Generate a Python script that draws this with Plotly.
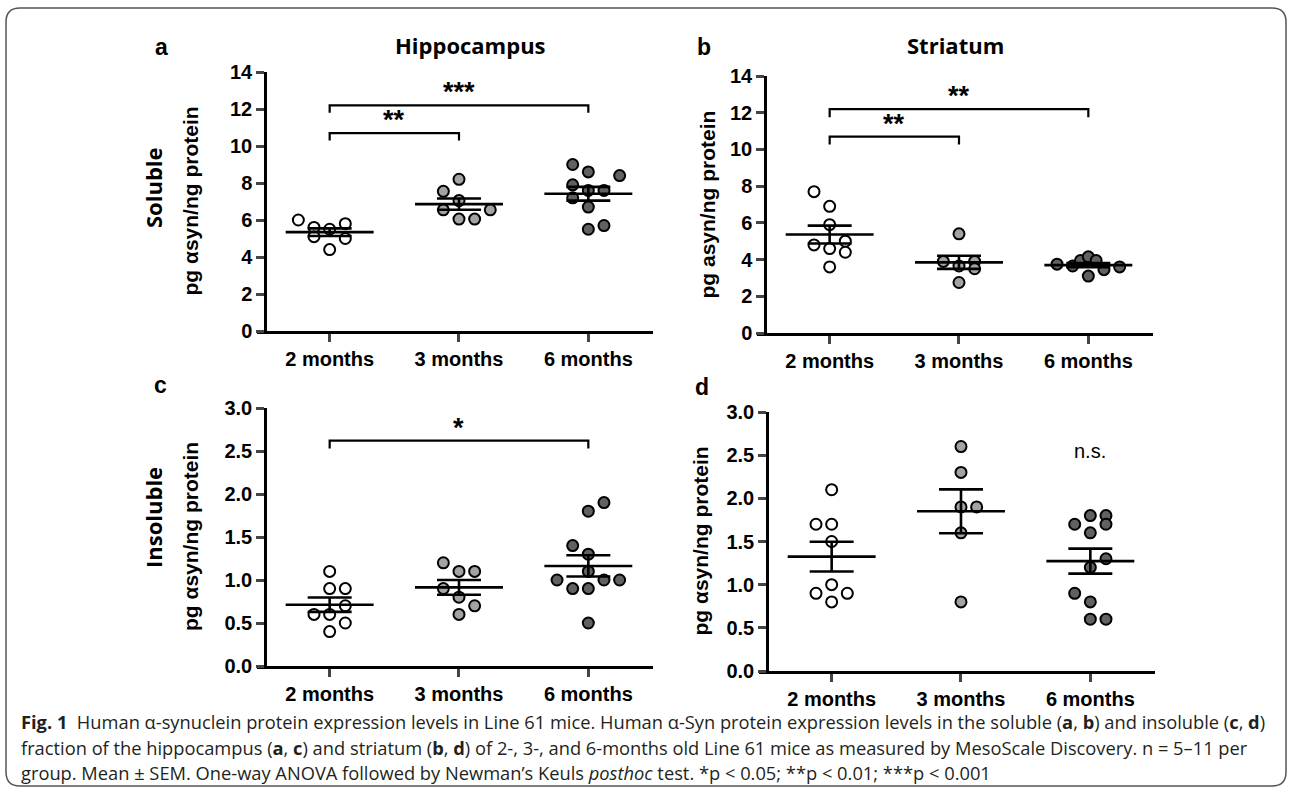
import numpy as np
import plotly.graph_objects as go

W, H = 1292, 795

groups = ["2 months", "3 months", "6 months"]
group_colors = ["#ffffff", "#a3a3a3", "#616161"]

# ---- data (pg alpha-syn / ng protein) ----
hip_sol = {
    "2 months": [6.0, 5.6, 5.1, 5.5, 4.4, 5.8, 5.0],
    "3 months": [8.2, 7.55, 7.05, 6.55, 6.55, 6.05, 6.05],
    "6 months": [9.0, 8.6, 8.4, 7.9, 7.6, 7.6, 7.2, 6.7, 5.5, 5.7],
}
str_sol = {
    "2 months": [7.7, 6.9, 5.9, 4.8, 4.6, 5.0, 4.4, 3.6],
    "3 months": [5.4, 3.9, 3.65, 3.9, 3.5, 2.75],
    "6 months": [3.75, 3.65, 3.95, 4.15, 3.95, 3.45, 3.1, 3.6],
}
hip_ins = {
    "2 months": [1.1, 0.9, 0.9, 0.7, 0.6, 0.6, 0.5, 0.4],
    "3 months": [1.2, 1.1, 1.1, 0.9, 0.8, 0.7, 0.6],
    "6 months": [1.9, 1.8, 1.4, 1.3, 1.1, 1.0, 1.0, 1.0, 0.9, 0.9, 0.5],
}
str_ins = {
    "2 months": [2.1, 1.7, 1.7, 1.5, 1.0, 0.9, 0.9, 0.8],
    "3 months": [2.6, 2.3, 1.9, 1.9, 1.6, 0.8],
    "6 months": [1.7, 1.8, 1.8, 1.7, 1.6, 1.3, 1.2, 0.9, 0.8, 0.6, 0.6],
}

# horizontal scatter slots (layout of the dot plot, in marker-widths)
slots_hip_sol = {
    "2 months": [-2, -1, -1, 0, 0, 1, 1],
    "3 months": [0, -1, 0, -1, 2, 0, 1],
    "6 months": [-1, 0, 2, -1, 0, 1, -1, 0, 0, 1],
}
slots_str_sol = {
    "2 months": [-1, 0, 0, -1, 0, 1, 1, 0],
    "3 months": [0, -1, 0, 1, 1, 0],
    "6 months": [-2, -1, -0.5, 0, 0.5, 1, 0, 2],
}
slots_hip_ins = {
    "2 months": [0, 0, 1, 1, -1, 0, 1, 0],
    "3 months": [-1, 0, 1, -1, 0, 1, 0],
    "6 months": [1, 0, -1, 0, 0, -2, 1, 2, -1, 0, 0],
}
slots_str_ins = {
    "2 months": [0, -1, 0, 0, 0, -1, 1, 0],
    "3 months": [0, 0, 0, 1, 0, 0],
    "6 months": [-1, 0, 1, 1, 0, 1, 0, -1, 0, 0, 1],
}

soluble_ticks = [0, 2, 4, 6, 8, 10, 12, 14]
insoluble_ticks = [0.0, 0.5, 1.0, 1.5, 2.0, 2.5, 3.0]

# significance brackets: (from group, to group, bar height, leg end, label)
sig_a = [(0, 2, 12.2, 11.8, "***"), (0, 1, 10.7, 10.3, "**")]
sig_b = [(0, 2, 12.2, 11.75, "**"), (0, 1, 10.7, 10.27, "**")]
sig_c = [(0, 2, 2.62, 2.53, "*")]

# ---- layout geometry (pixels) ----
def PX(x):
    return x / W

def PY(y):
    return 1 - y / H

panels = [
    dict(d=hip_sol, s=slots_hip_sol, ticks=soluble_ticks, yr=[0, 14], top=72, bot=331,
         xd=(257, 653), yx=265, fmt="d", title="pg \u03b1syn/ng protein", tx=190, sig=sig_a),
    dict(d=str_sol, s=slots_str_sol, ticks=soluble_ticks, yr=[0, 14], top=76, bot=333,
         xd=(757, 1153), yx=765, fmt="d", title="pg asyn/ng protein", tx=707, sig=sig_b),
    dict(d=hip_ins, s=slots_hip_ins, ticks=insoluble_ticks, yr=[0, 3], top=408, bot=666,
         xd=(257, 653), yx=265, fmt=".1f", title="pg \u03b1syn/ng protein", tx=190, sig=sig_c),
    dict(d=str_ins, s=slots_str_ins, ticks=insoluble_ticks, yr=[0, 3], top=412, bot=671,
         xd=(759, 1155), yx=767, fmt=".1f", title="pg \u03b1syn/ng protein", tx=700, sig=[]),
]

SLOT = 0.121       # one marker width, in category units
MEAN_HW = 0.34     # half-width of mean line
SEM_HW = 0.17      # half-width of SEM caps
XMIN = -0.5 - 8 / 129.5
XMAX = 2.5

ARIAL = "Liberation Sans, Arial"

fig = go.Figure()
layout = dict(
    width=W, height=H, margin=dict(l=0, r=0, t=0, b=0, autoexpand=False),
    paper_bgcolor="white", plot_bgcolor="rgba(0,0,0,0)", showlegend=False,
)
annotations = []
shapes = []

for i, p in enumerate(panels):
    k = "" if i == 0 else str(i + 1)
    xa, ya = "x" + k, "y" + k
    layout["xaxis" + k] = dict(
        domain=[PX(p["xd"][0]), PX(p["xd"][1])], range=[XMIN, XMAX], anchor=ya,
        tickvals=[0, 1, 2], ticktext=groups, ticks="outside", ticklen=8, tickwidth=2.5,
        showline=True, linewidth=2.5, linecolor="black", showgrid=False, zeroline=False,
        tickfont=dict(family=ARIAL, size=20, color="black", weight="bold"),
        fixedrange=True, automargin=False,
    )
    layout["yaxis" + k] = dict(
        domain=[PY(p["bot"]), PY(p["top"])], range=p["yr"], anchor="free", position=PX(p["yx"]),
        tickvals=p["ticks"], tickformat=p["fmt"], ticks="outside", ticklen=8, tickwidth=2.5,
        showline=True, linewidth=2.5, linecolor="black", showgrid=False, zeroline=False,
        tickfont=dict(family=ARIAL, size=20, color="black", weight="bold"),
        fixedrange=True, automargin=False,
    )
    # dots
    for g, grp in enumerate(groups):
        vals = np.array(p["d"][grp], dtype=float)
        xs = g + np.array(p["s"][grp], dtype=float) * SLOT
        fig.add_trace(go.Scatter(
            x=xs, y=vals, mode="markers", xaxis=xa, yaxis=ya,
            marker=dict(size=11, color=group_colors[g], line=dict(color="black", width=2)),
            hoverinfo="y",
        ))
    # mean +/- SEM
    for g, grp in enumerate(groups):
        vals = np.array(p["d"][grp], dtype=float)
        m = vals.mean()
        sem = vals.std(ddof=1) / np.sqrt(len(vals))
        lx = [g - MEAN_HW, g + MEAN_HW, None, g - SEM_HW, g + SEM_HW, None,
              g - SEM_HW, g + SEM_HW, None, g, g]
        ly = [m, m, None, m + sem, m + sem, None, m - sem, m - sem, None, m + sem, m - sem]
        fig.add_trace(go.Scatter(x=lx, y=ly, mode="lines", xaxis=xa, yaxis=ya,
                                 line=dict(color="black", width=2.6), hoverinfo="skip"))
    # brackets
    for (g0, g1, top, leg, lab) in p["sig"]:
        fig.add_trace(go.Scatter(x=[g0, g0, g1, g1], y=[leg, top, top, leg], mode="lines",
                                 xaxis=xa, yaxis=ya, line=dict(color="black", width=2.2),
                                 hoverinfo="skip"))
        annotations.append(dict(x=(g0 + g1) / 2, y=top, xref=xa, yref=ya, text=lab,
                                showarrow=False, yanchor="bottom", yshift=-4,
                                font=dict(family=ARIAL, size=27, color="black",
                                          weight="bold")))
    # y-axis title
    annotations.append(dict(x=PX(p["tx"]), y=PY((p["top"] + p["bot"]) / 2), xref="paper",
                            yref="paper", text=p["title"], textangle=-90, showarrow=False,
                            xanchor="center", yanchor="middle",
                            font=dict(family=ARIAL, size=21, color="black", weight="bold")))

# n.s. label in panel d
annotations.append(dict(x=2, y=2.55, xref="x4", yref="y4", text="n.s.", showarrow=False,
                        xanchor="center", yanchor="middle",
                        font=dict(family=ARIAL, size=20, color="black")))

# panel letters
for lab, x, y in [("a", 161, 47), ("b", 704, 47), ("c", 160, 385), ("d", 702, 387)]:
    annotations.append(dict(x=PX(x), y=PY(y), xref="paper", yref="paper", text=lab,
                            showarrow=False, xanchor="center", yanchor="middle",
                            font=dict(family=ARIAL, size=23, color="black", weight="bold")))

# column / row headers
hdr = dict(family="Open Sans", size=22, color="black", weight="bold")
for txt, x, y, ang in [("Hippocampus", 470, 45, 0), ("Striatum", 955, 45, 0),
                       ("Soluble", 153, 188, -90), ("Insoluble", 153, 518, -90)]:
    annotations.append(dict(x=PX(x), y=PY(y), xref="paper", yref="paper", text=txt,
                            textangle=ang, showarrow=False, xanchor="center",
                            yanchor="middle", font=hdr))

# caption
cap_lines = [
    "<b>Fig. 1</b>  Human \u03b1-synuclein protein expression levels in Line 61 mice. Human \u03b1-Syn "
    "protein expression levels in the soluble (<b>a</b>, <b>b</b>) and insoluble (<b>c</b>, <b>d</b>)",
    "fraction of the hippocampus (<b>a</b>, <b>c</b>) and striatum (<b>b</b>, <b>d</b>) of 2-, 3-, and "
    "6-months old Line 61 mice as measured by MesoScale Discovery. n = 5\u201311 per",
    "group. Mean \u00b1 SEM. One-way ANOVA followed by Newman\u2019s Keuls <i>posthoc</i> test. "
    "*p < 0.05; **p < 0.01; ***p < 0.001",
]
for line, yy in zip(cap_lines, [721, 747, 772]):
    annotations.append(dict(x=PX(19), y=PY(yy), xref="paper", yref="paper", text=line,
                            xanchor="left", yanchor="middle", showarrow=False,
                            font=dict(family="Open Sans", size=18.3, color="#231f20")))

# rounded frame
r = 14
x0, y0, x1, y1 = 6, 8, 1286, 786
path = (f"M {PX(x0 + r)},{PY(y0)} L {PX(x1 - r)},{PY(y0)} "
        f"Q {PX(x1)},{PY(y0)} {PX(x1)},{PY(y0 + r)} L {PX(x1)},{PY(y1 - r)} "
        f"Q {PX(x1)},{PY(y1)} {PX(x1 - r)},{PY(y1)} L {PX(x0 + r)},{PY(y1)} "
        f"Q {PX(x0)},{PY(y1)} {PX(x0)},{PY(y1 - r)} L {PX(x0)},{PY(y0 + r)} "
        f"Q {PX(x0)},{PY(y0)} {PX(x0 + r)},{PY(y0)} Z")
shapes.append(dict(type="path", path=path, xref="paper", yref="paper",
                   line=dict(color="#555555", width=1.5)))

layout["annotations"] = annotations
layout["shapes"] = shapes
fig.update_layout(**layout)
fig.write_html("out.html", config={"displayModeBar": False},
               post_script="document.body.style.margin='0';"
                           "document.body.style.overflow='hidden';"
                           "document.documentElement.style.overflow='hidden';")
